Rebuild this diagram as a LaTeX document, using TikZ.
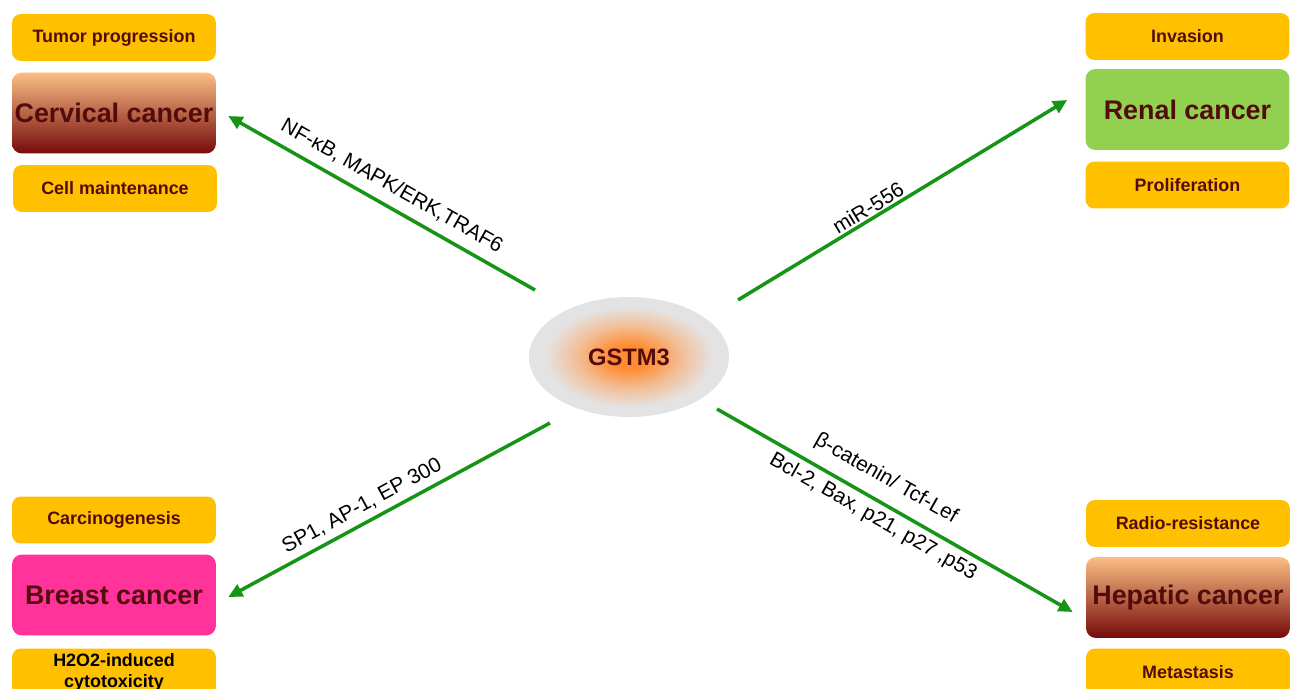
\documentclass[tikz,border=0pt]{standalone}
\usepackage{fontspec}
\setmainfont{Liberation Sans}
\usetikzlibrary{arrows.meta,calc,shapes.geometric}

\definecolor{boxyellow}{RGB}{255,192,0}
\definecolor{darktext}{RGB}{82,12,12}
\definecolor{peach}{RGB}{250,190,132}
\definecolor{rust}{RGB}{185,105,70}
\definecolor{maroon}{RGB}{118,10,10}
\definecolor{renalgreen}{RGB}{146,208,80}
\definecolor{breastpink}{RGB}{255,51,153}
\definecolor{arrowgreen}{RGB}{22,148,22}
\definecolor{corea}{RGB}{255,140,50}
\definecolor{coreb}{RGB}{242,190,150}
\definecolor{shellc}{RGB}{228,227,227}

% orange core fading into a light grey rim
\pgfdeclareradialshading{gcore}{\pgfpoint{0bp}{0bp}}{%
  color(0bp)=(corea); color(5bp)=(corea); color(13bp)=(coreb);
  color(21bp)=(shellc); color(50bp)=(shellc); color(100bp)=(shellc)}

\tikzset{
  effect/.style={fill=boxyellow, rounded corners=0.18cm, minimum width=4.08cm,
    minimum height=0.94cm, inner sep=0pt, text=darktext,
    font=\bfseries\fontsize{10.2}{12}\selectfont},
  cancer/.style={rounded corners=0.2cm, minimum width=4.08cm, minimum height=1.62cm,
    inner sep=0pt, text=darktext, font=\bfseries\fontsize{15.3}{18}\selectfont},
  tissue/.style={cancer, top color=peach, middle color=rust, bottom color=maroon},
  conn/.style={draw=arrowgreen, line width=2pt,
    -{Triangle[length=8pt,width=7.5pt]}},
  pathlabel/.style={inner sep=0pt, font=\fontsize{11.9}{14}\selectfont},
}

\begin{document}
\begin{tikzpicture}[x=0.02cm,y=-0.02cm]
\useasboundingbox (0,0) rectangle (1291,689);
\clip (0,0) rectangle (1291,689);

% central gene
\node[ellipse, minimum width=4cm, minimum height=2.4cm, shading=gcore,
  text=darktext, font=\bfseries\fontsize{13.5}{16}\selectfont] (gstm) at (629,357) {GSTM3};

% cervical cancer (upper left)
\node[effect] (tumor) at (114,37.5) {Tumor progression};
\node[tissue] (cervical) at (114,113) {Cervical cancer};
\node[effect] (cellm) at (115,188.5) {Cell maintenance};

% renal cancer (upper right)
\node[effect] (invasion) at (1187.5,36.5) {Invasion};
\node[cancer, fill=renalgreen] (renal) at (1187.5,109.5) {Renal cancer};
\node[effect] (prolif) at (1187.5,185) {Proliferation};

% breast cancer (lower left)
\node[effect] (carcino) at (114,520) {Carcinogenesis};
\node[cancer, fill=breastpink] (breast) at (114,595) {Breast cancer};
\node[effect, text=black, align=center, font=\bfseries\fontsize{10.2}{12}\selectfont]
  (htwo) at (114,672) {H2O2-induced\\cytotoxicity};

% hepatic cancer (lower right)
\node[effect] (radio) at (1188,523.5) {Radio-resistance};
\node[tissue] (hepatic) at (1188,597.5) {Hepatic cancer};
\node[effect] (metast) at (1188,672) {Metastasis};

% arrow tails near the central ellipse
\coordinate (tcerv) at (535,290);
\coordinate (trenal) at (738,300);
\coordinate (tbreast) at (550,423);
\coordinate (thep) at (717,409);

\draw[conn] (tcerv) -- ($(cervical.east)+(12,3)$);
\draw[conn] (trenal) -- ($(renal.west)+(-18,-9.5)$);
\draw[conn] (tbreast) -- ($(breast.east)+(12,2)$);
\draw[conn] (thep) -- ($(hepatic.west)+(-13,14.5)$);

% pathway labels
\node[pathlabel, rotate=-29.5] (lcerv) at (392,186) {NF-κB, MAPK/ERK,TRAF6};
\node[pathlabel, rotate=31.2] (lrenal) at (868,208) {miR-556};
\node[pathlabel, rotate=28.4] (lbreast) at (362,506) {SP1, AP-1, EP 300};
\node[pathlabel, rotate=-29.7] (lhep1) at (886,479) {β-catenin/ Tcf-Lef};
\node[pathlabel, rotate=-29.7] (lhep2) at (873,517) {Bcl-2, Bax, p21, p27 ,p53};
\end{tikzpicture}
\end{document}
